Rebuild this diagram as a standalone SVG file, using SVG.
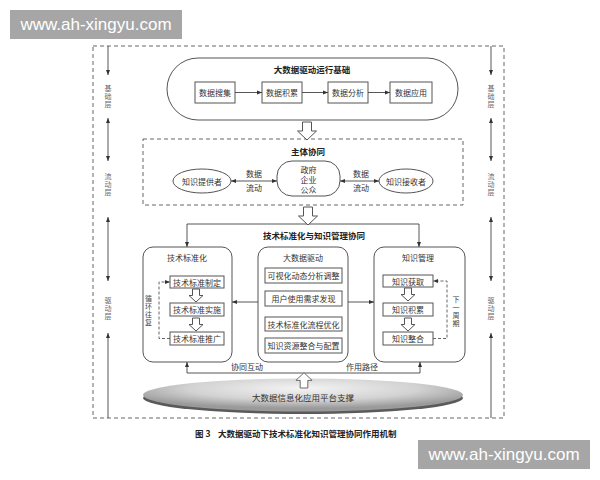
<svg xmlns="http://www.w3.org/2000/svg" width="600" height="480" viewBox="0 0 600 480">
<defs>
<style>
.t{font-family:"Noto Sans CJK SC","Noto Sans",sans-serif;font-size:8px;fill:#333;text-anchor:middle;dominant-baseline:central}
.b{font-weight:bold;font-size:8.5px;fill:#222}
.v{font-family:"Noto Sans CJK SC","Noto Sans",sans-serif;font-size:7px;fill:#666;writing-mode:vertical-rl;text-anchor:middle;letter-spacing:1px}
.box{fill:#fff;stroke:#555;stroke-width:1}
.ln{fill:none;stroke:#444;stroke-width:0.9}
.dash{fill:none;stroke:#555;stroke-width:0.9;stroke-dasharray:3,2}
.hol{fill:#fff;stroke:#555;stroke-width:1;stroke-linejoin:miter}
.wm{font-family:"Liberation Sans",Arial,sans-serif;font-size:17px;fill:#fff;text-anchor:middle;dominant-baseline:central}
</style>
<marker id="ah" viewBox="0 0 10 10" refX="10" refY="5" markerWidth="5" markerHeight="5" orient="auto-start-reverse" markerUnits="userSpaceOnUse">
<path d="M0,1 L10,5 L0,9 z" fill="#333"/>
</marker>
<path id="hd" d="M-4.5,0 H4.5 V9 H9.5 L0,18 L-9.5,9 H-4.5 Z"/>
<path id="hs" d="M-3.5,0 H3.5 V6.5 H7 L0,13 L-7,6.5 H-3.5 Z"/>
<radialGradient id="eg" cx="0.5" cy="0.3" r="0.6">
<stop offset="0" stop-color="#f4f4f4"/>
<stop offset="0.6" stop-color="#d2d2d2"/>
<stop offset="1" stop-color="#9a9a9a"/>
</radialGradient>
</defs>
<rect width="600" height="480" fill="#fff"/>

<g id="watermark-top">
<rect x="10" y="10" width="172" height="29" fill="#a6a6a6"/>
<text class="wm" x="96" y="24.5">www.ah-xingyu.com</text>
</g>
<g id="watermark-bottom">
<rect x="418" y="440" width="172" height="29" fill="#a6a6a6"/>
<text class="wm" x="504" y="454.5">www.ah-xingyu.com</text>
</g>

<g id="frame">
<rect x="93" y="46" width="411" height="372" fill="none" stroke="#555" stroke-width="0.9" stroke-dasharray="4,3"/>
</g>

<g id="layer-left">
<text class="v" x="108" y="97">基础层</text>
<text class="v" x="108" y="185">流动层</text>
<text class="v" x="108" y="309">驱动层</text>
</g>
<g id="layer-right">
<text class="v" x="491" y="97">基础层</text>
<text class="v" x="491" y="185">流动层</text>
<text class="v" x="491" y="309">驱动层</text>
</g>

<g id="foundation">
<rect x="167" y="58" width="291" height="62" rx="31" class="box"/>
<text class="t b" x="312" y="69">大数据驱动运行基础</text>
</g>
<g id="data-collect"><rect x="195" y="82" width="40" height="21" class="box"/><text class="t" x="215" y="92.5">数据搜集</text></g>
<g id="data-accum"><rect x="262" y="82" width="40" height="21" class="box"/><text class="t" x="282" y="92.5">数据积累</text></g>
<g id="data-analysis"><rect x="328" y="82" width="40" height="21" class="box"/><text class="t" x="348" y="92.5">数据分析</text></g>
<g id="data-apply"><rect x="390" y="82" width="42" height="21" class="box"/><text class="t" x="411" y="92.5">数据应用</text></g>

<g id="subject-synergy">
<rect x="143" y="139" width="320" height="66" fill="none" stroke="#555" stroke-width="0.9" stroke-dasharray="4,3"/>
<text class="t b" x="308" y="151">主体协同</text>
</g>
<g id="provider"><ellipse cx="202" cy="181" rx="29" ry="12" class="box"/><text class="t" x="202" y="181">知识提供者</text></g>
<g id="gov"><rect x="277" y="161" width="63" height="35" rx="15" class="box"/>
<text class="t" x="308.5" y="169">政府</text><text class="t" x="308.5" y="179">企业</text><text class="t" x="308.5" y="189.5">公众</text></g>
<g id="receiver"><ellipse cx="406" cy="181" rx="27" ry="12" class="box"/><text class="t" x="406" y="181">知识接收者</text></g>

<g id="synergy-title"><text class="t b" x="314" y="235">技术标准化与知识管理协同</text></g>

<g id="tech-std">
<rect x="143" y="247" width="89" height="115" rx="10" class="box"/>
<text class="t" x="187" y="257">技术标准化</text>
<text class="v" style="fill:#444" x="148.5" y="311">循环往复</text>
</g>
<g id="std-make"><rect x="170" y="276" width="54" height="12" class="box"/><text class="t" x="197" y="282">技术标准制定</text></g>
<g id="std-impl"><rect x="170" y="303" width="54" height="13" class="box"/><text class="t" x="197" y="309.5">技术标准实施</text></g>
<g id="std-promo"><rect x="170" y="332" width="54" height="13" class="box"/><text class="t" x="197" y="338.5">技术标准推广</text></g>

<g id="bigdata-drive">
<rect x="258" y="247" width="90" height="115" rx="10" class="box"/>
<text class="t" x="303" y="257">大数据驱动</text>
</g>
<g id="visual"><rect x="265" y="268" width="77" height="15" class="box"/><text class="t" x="303.5" y="275.5">可视化动态分析调整</text></g>
<g id="user"><rect x="265" y="291" width="77" height="15" class="box"/><text class="t" x="303.5" y="298.5">用户使用需求发现</text></g>
<g id="flow-opt"><rect x="265" y="317" width="77" height="14" class="box"/><text class="t" x="303.5" y="324">技术标准化流程优化</text></g>
<g id="resource"><rect x="265" y="338" width="77" height="15" class="box"/><text class="t" x="303.5" y="345.5">知识资源整合与配置</text></g>

<g id="km">
<rect x="374" y="247" width="91" height="115" rx="10" class="box"/>
<text class="t" x="418" y="257">知识管理</text>
<text class="v" style="fill:#444" x="456" y="312">下一周期</text>
</g>
<g id="k-acquire"><rect x="383" y="275" width="50" height="12" class="box"/><text class="t" x="408" y="281">知识获取</text></g>
<g id="k-accum"><rect x="383" y="303" width="50" height="13" class="box"/><text class="t" x="408" y="309.5">知识积累</text></g>
<g id="k-integrate"><rect x="383" y="332" width="50" height="13" class="box"/><text class="t" x="408" y="338.5">知识整合</text></g>

<g id="platform">
<ellipse cx="303" cy="398" rx="160" ry="16" fill="#5a5a5a"/>
<ellipse cx="303" cy="395" rx="160" ry="16.5" fill="url(#eg)"/>
<text class="t" x="303" y="397" style="font-size:8.5px">大数据信息化应用平台支撑</text>
</g>

<g id="connectors">
<line class="ln" x1="108" y1="46" x2="108" y2="75" marker-end="url(#ah)"/>
<line class="ln" x1="108" y1="118" x2="108" y2="161" marker-start="url(#ah)" marker-end="url(#ah)"/>
<line class="ln" x1="108" y1="217" x2="108" y2="281" marker-start="url(#ah)" marker-end="url(#ah)"/>
<line class="ln" x1="108" y1="418" x2="108" y2="333" marker-end="url(#ah)"/>
<line class="ln" x1="491" y1="46" x2="491" y2="75" marker-end="url(#ah)"/>
<line class="ln" x1="491" y1="118" x2="491" y2="161" marker-start="url(#ah)" marker-end="url(#ah)"/>
<line class="ln" x1="491" y1="217" x2="491" y2="281" marker-start="url(#ah)" marker-end="url(#ah)"/>
<line class="ln" x1="491" y1="418" x2="491" y2="333" marker-end="url(#ah)"/>

<line class="ln" x1="235" y1="92.5" x2="262" y2="92.5" marker-end="url(#ah)"/>
<line class="ln" x1="302" y1="92.5" x2="328" y2="92.5" marker-end="url(#ah)"/>
<line class="ln" x1="368" y1="92.5" x2="390" y2="92.5" marker-end="url(#ah)"/>

<line class="ln" x1="231" y1="181" x2="277" y2="181" marker-start="url(#ah)" marker-end="url(#ah)"/>
<line class="ln" x1="340" y1="181" x2="379" y2="181" marker-start="url(#ah)" marker-end="url(#ah)"/>
<text class="t" x="254" y="173">数据</text><text class="t" x="254" y="187.5">流动</text>
<text class="t" x="361" y="173">数据</text><text class="t" x="361" y="187.5">流动</text>

<path class="ln" d="M308,224 H187 V247" marker-end="url(#ah)"/>
<path class="ln" d="M308,224 H419 V247" marker-end="url(#ah)"/>

<line class="ln" x1="258" y1="302" x2="232" y2="302" marker-end="url(#ah)"/>
<line class="ln" x1="348" y1="302" x2="374" y2="302" marker-end="url(#ah)"/>

<path class="dash" d="M170,338.5 H159 V282 H170" marker-end="url(#ah)"/>
<path class="dash" d="M433,338.5 H447 V281 H433" marker-end="url(#ah)"/>

<path class="ln" d="M304,373 H187 V362" marker-end="url(#ah)"/>
<path class="ln" d="M304,373 H420 V362" marker-end="url(#ah)"/>
<text class="t" x="247" y="366">协同互动</text>
<text class="t" x="362" y="366">作用路径</text>

<use href="#hd" class="hol" transform="translate(307,122)"/>
<use href="#hd" class="hol" transform="translate(308,207)"/>
<use href="#hs" class="hol" transform="translate(196,289)"/>
<use href="#hs" class="hol" transform="translate(196,318)"/>
<use href="#hs" class="hol" transform="translate(408,288)"/>
<use href="#hs" class="hol" transform="translate(408,318)"/>
<use href="#hd" class="hol" transform="translate(304,388) scale(0.85,-0.85)"/>
</g>

<g id="caption">
<text class="t b" x="195" y="433" style="text-anchor:start">图 3</text>
<text class="t b" x="218" y="433" style="text-anchor:start">大数据驱动下技术标准化知识管理协同作用机制</text>
</g>
</svg>
